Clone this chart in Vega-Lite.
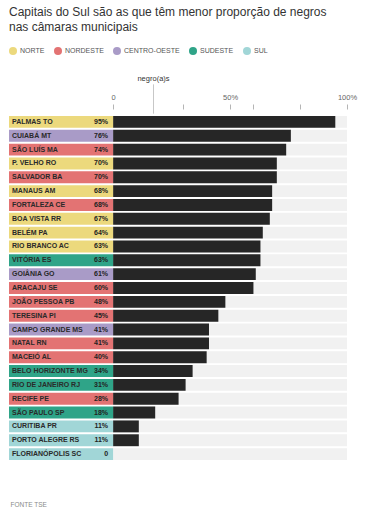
{
  "$schema": "https://vega.github.io/schema/vega-lite/v6.json",
  "width": 338,
  "height": 346,
  "padding": {"left": 9, "top": 6, "right": 18, "bottom": 5},
  "background": "white",
  "config": {"view": {"stroke": null}, "font": "Liberation Sans"},
  "title": {
    "text": ["Capitais do Sul são as que têm menor proporção de negros", "nas câmaras municipais"],
    "anchor": "start",
    "frame": "group",
    "fontSize": 12,
    "fontWeight": "normal",
    "color": "#333333",
    "lineHeight": 15,
    "offset": 13
  },
  "data": {
    "values": [
      {"city": "PALMAS", "uf": "TO", "region": "NORTE", "value": 95},
      {"city": "CUIABÁ", "uf": "MT", "region": "CENTRO-OESTE", "value": 76},
      {"city": "SÃO LUÍS", "uf": "MA", "region": "NORDESTE", "value": 74},
      {"city": "P. VELHO", "uf": "RO", "region": "NORTE", "value": 70},
      {"city": "SALVADOR", "uf": "BA", "region": "NORDESTE", "value": 70},
      {"city": "MANAUS", "uf": "AM", "region": "NORTE", "value": 68},
      {"city": "FORTALEZA", "uf": "CE", "region": "NORDESTE", "value": 68},
      {"city": "BOA VISTA", "uf": "RR", "region": "NORTE", "value": 67},
      {"city": "BELÉM", "uf": "PA", "region": "NORTE", "value": 64},
      {"city": "RIO BRANCO", "uf": "AC", "region": "NORTE", "value": 63},
      {"city": "VITÓRIA", "uf": "ES", "region": "SUDESTE", "value": 63},
      {"city": "GOIÂNIA", "uf": "GO", "region": "CENTRO-OESTE", "value": 61},
      {"city": "ARACAJU", "uf": "SE", "region": "NORDESTE", "value": 60},
      {"city": "JOÃO PESSOA", "uf": "PB", "region": "NORDESTE", "value": 48},
      {"city": "TERESINA", "uf": "PI", "region": "NORDESTE", "value": 45},
      {"city": "CAMPO GRANDE", "uf": "MS", "region": "CENTRO-OESTE", "value": 41},
      {"city": "NATAL", "uf": "RN", "region": "NORDESTE", "value": 41},
      {"city": "MACEIÓ", "uf": "AL", "region": "NORDESTE", "value": 40},
      {"city": "BELO HORIZONTE", "uf": "MG", "region": "SUDESTE", "value": 34},
      {"city": "RIO DE JANEIRO", "uf": "RJ", "region": "SUDESTE", "value": 31},
      {"city": "RECIFE", "uf": "PE", "region": "NORDESTE", "value": 28},
      {"city": "SÃO PAULO", "uf": "SP", "region": "SUDESTE", "value": 18},
      {"city": "CURITIBA", "uf": "PR", "region": "SUL", "value": 11},
      {"city": "PORTO ALEGRE", "uf": "RS", "region": "SUL", "value": 11},
      {"city": "FLORIANÓPOLIS", "uf": "SC", "region": "SUL", "value": 0}
    ]
  },
  "transform": [
    {"calculate": "datum.city + ' ' + datum.uf", "as": "label"},
    {"calculate": "datum.value == 0 ? '0' : datum.value + '%'", "as": "pct"}
  ],
  "encoding": {
    "y": {
      "field": "city",
      "type": "nominal",
      "sort": null,
      "scale": {"paddingInner": 0.14, "paddingOuter": 0.07},
      "axis": {
        "labels": false,
        "ticks": false,
        "domain": false,
        "grid": false,
        "title": "FONTE TSE",
        "titleAngle": 0,
        "titleX": 1,
        "titleY": 389,
        "titleAlign": "left",
        "titleBaseline": "middle",
        "titleFontSize": 6.5,
        "titleFontWeight": "normal",
        "titleColor": "#8a8a8a"
      }
    }
  },
  "layer": [
    {
      "mark": {"type": "bar", "color": "#f1f1f1"},
      "encoding": {
        "x": {
          "datum": 100,
          "type": "quantitative",
          "scale": {"domain": [-44.5, 100], "nice": false},
          "axis": {
            "orient": "top",
            "values": [0, 10, 17, 20, 30, 40, 50, 60, 60, 70, 80, 90, 100],
            "labelExpr": "datum.value == 0 ? '0' : datum.value == 50 ? '50%' : datum.value == 100 ? '100%' : ''",
            "labelFlush": false,
            "labelOverlap": false,
            "labelFontSize": 7.5,
            "labelColor": "#666666",
            "labelBaseline": "bottom",
            "labelPadding": -17,
            "offset": 2,
            "domain": false,
            "grid": false,
            "tickSize": 29,
            "tickColor": "#b5b5b5",
            "tickWidth": 1,
            "tickDash": {"condition": {"test": "datum.value == 17", "value": [1, 0]}, "value": [5, 100]},
            "tickDashOffset": 101,
            "title": "negro(a)s",
            "titleX": 144,
            "titleY": -33,
            "titleAlign": "center",
            "titleBaseline": "alphabetic",
            "titleFontSize": 7.5,
            "titleFontWeight": "normal",
            "titleColor": "#333333"
          }
        }
      }
    },
    {
      "mark": {"type": "bar", "color": "#262626"},
      "encoding": {
        "x": {"field": "value", "type": "quantitative"}
      }
    },
    {
      "mark": {"type": "bar", "x2Offset": -3},
      "encoding": {
        "x": {"datum": -44.5, "type": "quantitative"},
        "color": {
          "field": "region",
          "type": "nominal",
          "scale": {
            "domain": ["NORTE", "NORDESTE", "CENTRO-OESTE", "SUDESTE", "SUL"],
            "range": ["#ecd97d", "#e37373", "#a99bc7", "#2fa488", "#a1d6d7"]
          },
          "legend": {
            "orient": "none",
            "legendX": 0,
            "legendY": -68,
            "direction": "horizontal",
            "title": null,
            "symbolType": "circle",
            "symbolSize": 64,
            "symbolStrokeWidth": 0,
            "labelFontSize": 7,
            "labelColor": "#555555",
            "labelOffset": 3,
            "columnPadding": 9
          }
        }
      }
    },
    {
      "mark": {"type": "text", "align": "left", "baseline": "middle", "dx": 3, "fontSize": 7, "fontWeight": "bold", "color": "#2a2a2a"},
      "encoding": {
        "x": {"datum": -44.5, "type": "quantitative"},
        "text": {"field": "label"}
      }
    },
    {
      "mark": {"type": "text", "align": "right", "baseline": "middle", "dx": -5, "fontSize": 7, "fontWeight": "bold", "color": "#222222"},
      "encoding": {
        "x": {"datum": 0, "type": "quantitative"},
        "text": {"field": "pct"}
      }
    }
  ]
}
